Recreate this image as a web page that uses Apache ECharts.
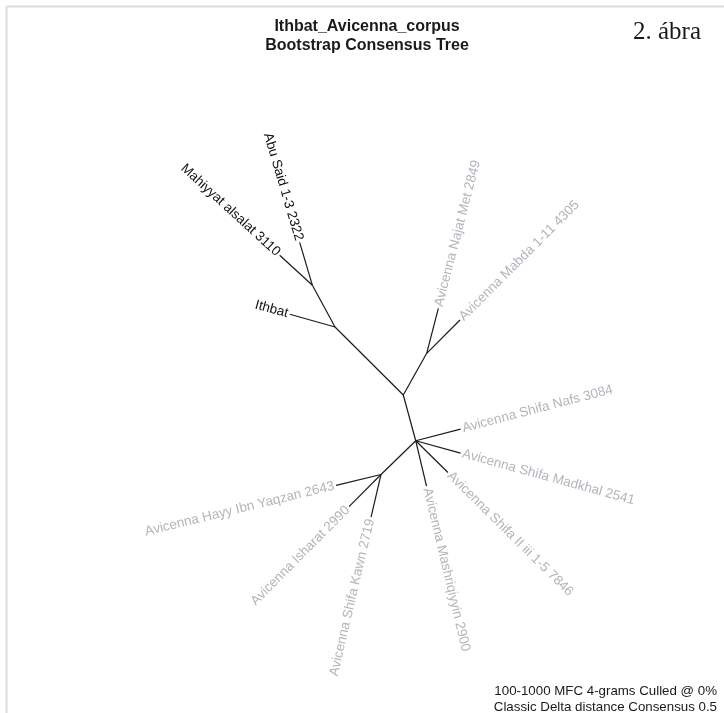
<!DOCTYPE html>
<html>
<head>
<meta charset="utf-8">
<title>Ithbat_Avicenna_corpus</title>
<script src="https://cdn.jsdelivr.net/npm/echarts@6/dist/echarts.min.js"></script>
<style>
  html, body { margin: 0; padding: 0; background: #fff; }
  #chart { width: 724px; height: 713px; }
</style>
</head>
<body>
<div id="chart"></div>
<script>
// tree nodes, parents listed before children; internal nodes have no label
const nodeLabels = [
  '', '', '',
  'Abu Said 1-3 2322', 'Mahiyyat alsalat 3110', 'Ithbat',
  '', 'Avicenna Najat Met 2849', 'Avicenna Mabda 1-11 4305',
  '', 'Avicenna Shifa Nafs 3084', 'Avicenna Shifa Madkhal 2541',
  'Avicenna Shifa II iii 1-5 7846', 'Avicenna Mashriqiyyin 2900',
  '', 'Avicenna Hayy Ibn Yaqzan 2643', 'Avicenna Isharat 2990', 'Avicenna Shifa Kawn 2719'
];
const parentIndex = [-1, 0, 1, 2, 2, 1, 0, 6, 6, 0, 9, 9, 9, 9, 9, 14, 14, 14];
// branch lengths (tree units) and branch directions (degrees, unrooted layout)
const branchLength = [0, 96.4, 47.4, 44.8, 44.4, 47.0, 47.8, 46.5, 47.1, 47.4, 46.3, 46.5, 45.3, 46.6, 48.4, 46.3, 45.4, 43.7];
const branchAngle = [0, 135.1, 118.5, 106.5, 137.5, 164.3, 60.7, 75.5, 45, -74.8, 14.6, -15.4, -44.6, -76.6, -135.8, -166.3, -134.8, -103.2];

const titleLines = ['Ithbat_Avicenna_corpus', 'Bootstrap Consensus Tree'];
const footLines = ['100-1000 MFC 4-grams Culled @ 0%', 'Classic Delta distance Consensus 0.5'];

// place nodes by walking down the branches
const pos = [];
nodeLabels.forEach((_, i) => {
  if (parentIndex[i] < 0) { pos.push([0, 0]); return; }
  const p = pos[parentIndex[i]];
  const a = branchAngle[i] * Math.PI / 180;
  pos.push([p[0] + branchLength[i] * Math.cos(a), p[1] + branchLength[i] * Math.sin(a)]);
});

const edges = [];
for (let i = 1; i < nodeLabels.length; i++) {
  const p = pos[parentIndex[i]];
  edges.push([p[0], p[1], pos[i][0], pos[i][1], i]);
}

const chart = echarts.init(document.getElementById('chart'));
const labelFont = '13.5px "Liberation Sans", Arial, sans-serif';

chart.setOption({
  animation: false,
  backgroundColor: '#fff',
  grid: { left: 0, right: 0, top: 0, bottom: 0 },
  xAxis: { type: 'value', min: -403.3, max: 320.7, show: false },
  yAxis: { type: 'value', min: -318, max: 395, show: false },
  graphic: [
    { type: 'line', shape: { x1: 6.5, y1: 6.5, x2: 724, y2: 6.5 }, style: { stroke: '#dcdcdc', lineWidth: 2 } },
    { type: 'line', shape: { x1: 6.5, y1: 6.5, x2: 6.5, y2: 713 }, style: { stroke: '#dcdcdc', lineWidth: 2 } },
    { type: 'text', x: 367, y: 27, style: { text: titleLines[0], align: 'center', verticalAlign: 'middle', font: 'bold 16px "Liberation Sans", Arial, sans-serif', fill: '#1a1a1a' } },
    { type: 'text', x: 367, y: 46, style: { text: titleLines[1], align: 'center', verticalAlign: 'middle', font: 'bold 16px "Liberation Sans", Arial, sans-serif', fill: '#1a1a1a' } },
    { type: 'text', x: 633, y: 32, style: { text: '2. ábra', align: 'left', verticalAlign: 'middle', font: '25px "Liberation Serif", "Times New Roman", serif', fill: '#1a1a1a' } },
    { type: 'text', x: 717, y: 691, style: { text: footLines[0], align: 'right', verticalAlign: 'middle', font: '13.3px "Liberation Sans", Arial, sans-serif', fill: '#1a1a1a' } },
    { type: 'text', x: 717, y: 707, style: { text: footLines[1], align: 'right', verticalAlign: 'middle', font: '13.3px "Liberation Sans", Arial, sans-serif', fill: '#1a1a1a' } }
  ],
  series: [{
    type: 'custom',
    data: edges,
    encode: { x: [0, 2], y: [1, 3] },
    renderItem: function (params, api) {
      const a = api.coord([api.value(0), api.value(1)]);
      const b = api.coord([api.value(2), api.value(3)]);
      const idx = api.value(4);
      const children = [{
        type: 'line',
        shape: { x1: a[0], y1: a[1], x2: b[0], y2: b[1] },
        style: { stroke: '#1a1a1a', lineWidth: 1.2 }
      }];
      const label = nodeLabels[idx];
      if (label) {
        let ang = branchAngle[idx];
        let align = 'left';
        let off = 2;
        if (ang > 90 || ang < -90) {
          ang = ang > 0 ? ang - 180 : ang + 180;
          align = 'right';
          off = -2;
        }
        children.push({
          type: 'text',
          x: b[0], y: b[1],
          rotation: ang * Math.PI / 180,
          style: {
            text: label, x: off, y: 0,
            align: align, verticalAlign: 'middle',
            font: labelFont,
            fill: label.indexOf('Avicenna') === 0 ? '#b4b4bc' : '#111'
          }
        });
      }
      return { type: 'group', children: children };
    }
  }]
});
</script>
</body>
</html>
